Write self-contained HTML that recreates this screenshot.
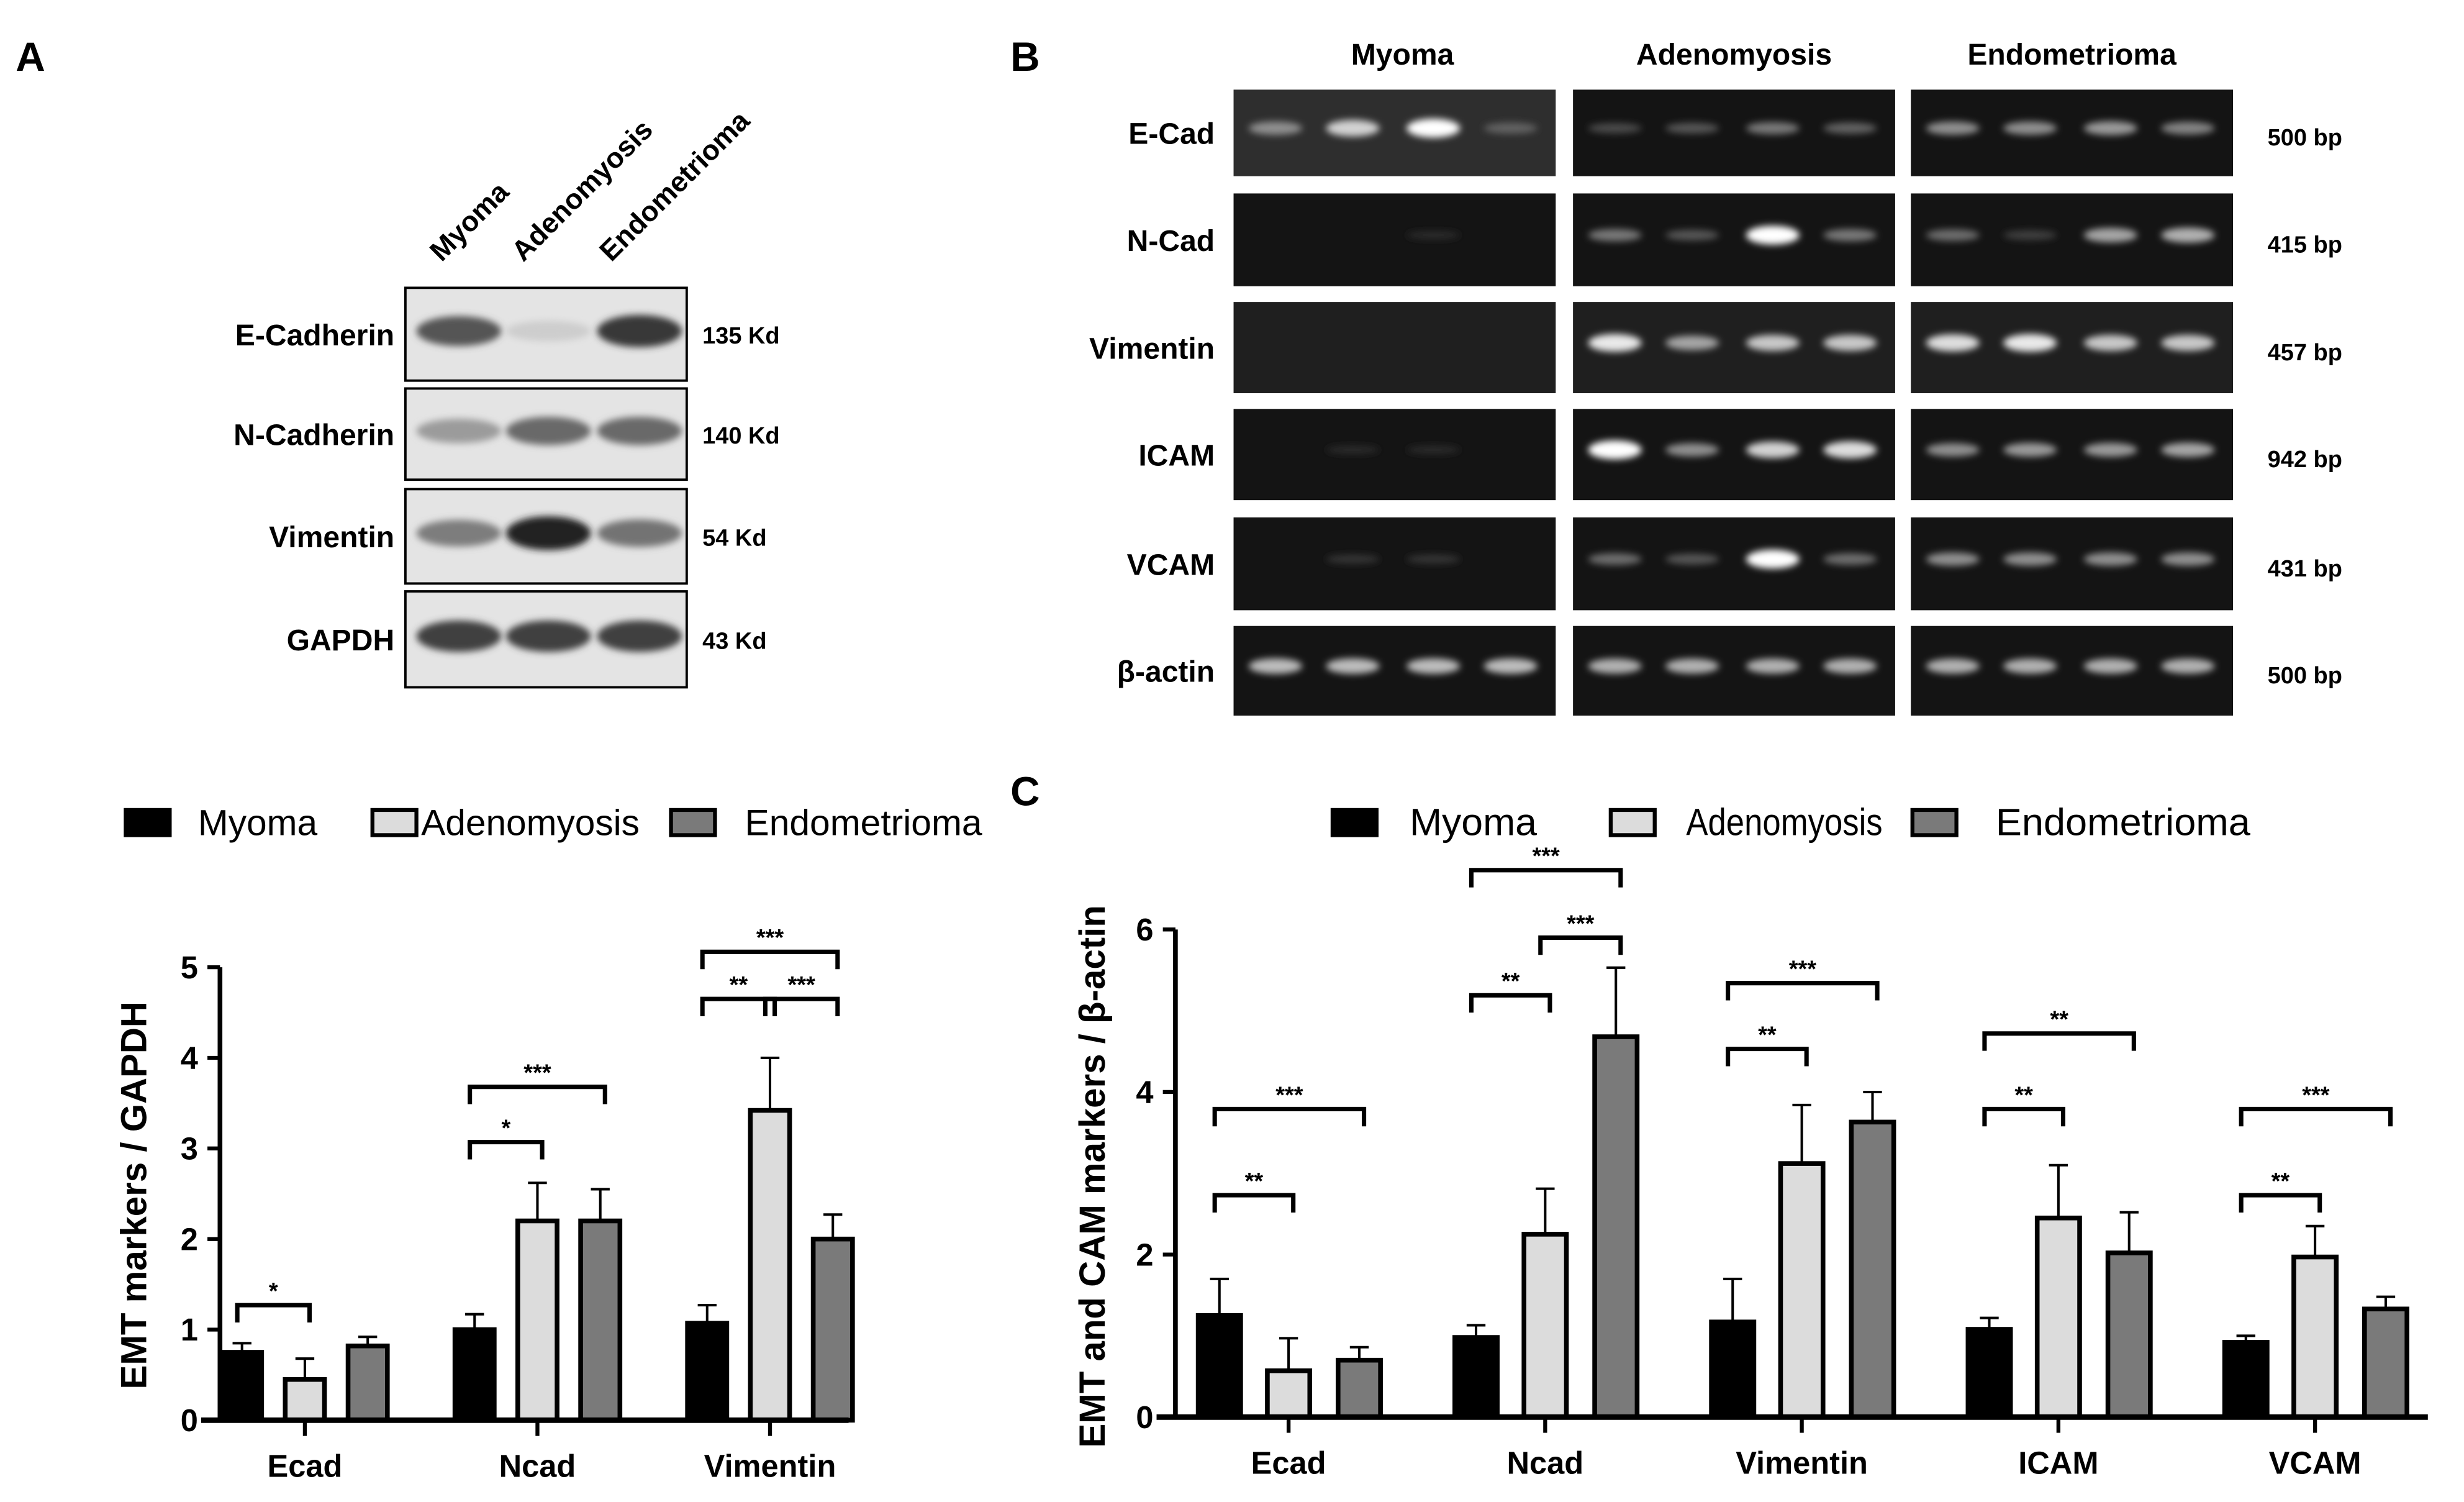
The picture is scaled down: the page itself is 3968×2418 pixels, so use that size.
<!DOCTYPE html>
<html><head><meta charset="utf-8"><style>
html,body{margin:0;padding:0;background:#fff;}
svg{display:block;font-family:"Liberation Sans",sans-serif;}
</style></head><body>
<svg id="fig" width="3968" height="2418" viewBox="0 0 1568 955" preserveAspectRatio="none" xmlns="http://www.w3.org/2000/svg">
<defs>
<filter id="blur" x="-50%" y="-100%" width="200%" height="300%"><feGaussianBlur stdDeviation="2.2"/></filter>
</defs>
<rect width="1568" height="955" fill="#fff"/>
<text x="10" y="45" font-size="26" font-weight="bold">A</text>
<text x="643" y="45" font-size="26" font-weight="bold">B</text>
<text x="643" y="512" font-size="26" font-weight="bold">C</text>
<g id="wb"></g>
<g id="gel"></g>
<g id="chartA"></g>
<g id="chartC"></g>
</svg>
<script>
// ---- Chart A data ----
const catsA = ["Ecad","Ncad","Vimentin"];
const myomaA = [0.75, 1.0, 1.07];
const adenoA = [0.45, 2.2, 3.42];
const endoA = [0.82, 2.2, 2.0];
const myomaErrA = [0.1, 0.17, 0.2];
const adenoErrA = [0.23, 0.42, 0.58];
const endoErrA = [0.1, 0.35, 0.27];
const ticksA = [0,1,2,3,4,5];
const sigGroupA = [0,1,1,2,2,2];
const sigFromA = [0,0,0,0,1,0];
const sigToA = [1,1,2,1,2,2];
const sigLevelA = [1.27,3.07,3.68,4.65,4.65,5.17];
const sigTextA = ["*","*","***","**","***","***"];
// ---- Chart C data ----
const catsC = ["Ecad","Ncad","Vimentin","ICAM","VCAM"];
const myomaC = [1.25, 0.98, 1.17, 1.08, 0.92];
const adenoC = [0.57, 2.25, 3.12, 2.45, 1.97];
const endoC = [0.7, 4.68, 3.63, 2.02, 1.33];
const myomaErrC = [0.45, 0.15, 0.53, 0.14, 0.08];
const adenoErrC = [0.4, 0.56, 0.72, 0.65, 0.38];
const endoErrC = [0.16, 0.85, 0.37, 0.5, 0.15];
const ticksC = [0,2,4,6];
const sigGroupC = [0,0,1,1,1,2,2,3,3,4,4];
const sigFromC = [0,0,0,1,0,0,0,0,0,0,0];
const sigToC = [1,2,1,2,2,1,2,1,2,1,2];
const sigLevelC = [2.73,3.79,5.19,5.9,6.73,4.53,5.34,3.79,4.72,2.73,3.79];
const sigTextC = ["**","***","**","***","***","**","***","**","**","**","***"];
const seriesNames = ["Myoma","Adenomyosis","Endometrioma"];
const fills = ["#000","#dcdcdc","#7a7a7a"];

const NS="http://www.w3.org/2000/svg";
function mk(tag, attrs, parent){const e=document.createElementNS(NS,tag);for(const k in attrs)e.setAttribute(k,attrs[k]);parent.appendChild(e);return e;}

function drawChart(g, cfg){
  const y = v => cfg.y0 - v*cfg.unit;
  const xc = i => cfg.c0 + i*cfg.step;
  const series=[cfg.my,cfg.ad,cfg.en], errs=[cfg.myE,cfg.adE,cfg.enE];
  cfg.cats.forEach((c,i)=>{
    for(let s=0;s<3;s++){
      const v=series[s][i], e=errs[s][i], cx=xc(i)+cfg.offs[s];
      const el=mk('line',{x1:cx,x2:cx,y1:y(v),y2:y(v+e),stroke:'#000','stroke-width':1.6},g);
      
      
      const cap=mk('line',{x1:cx-6,x2:cx+6,y1:y(v+e),y2:y(v+e),stroke:'#000','stroke-width':1.6},g);
      
      
      const r=mk('rect',{x:cx-cfg.bw/2,y:y(v),width:cfg.bw,height:y(0)-y(v),fill:fills[s],stroke:'#000','stroke-width':3},g);
      
      
    }
    const t=mk('line',{x1:xc(i),x2:xc(i),y1:y(0),y2:y(0)+10,stroke:'#000','stroke-width':2.5},g);
    
    
    const lb=mk('text',{x:xc(i),y:y(0)+36,'text-anchor':'middle','font-size':20,'font-weight':'bold'},g);
    lb.textContent=c;
    
    
  });
  const ax=mk('line',{x1:cfg.ax,x2:cfg.ax,y1:y(cfg.ticks[cfg.ticks.length-1]),y2:y(0)+1.5,stroke:'#000','stroke-width':3},g);
  
  
  const xa=mk('line',{x1:cfg.ax-12,x2:cfg.xend,y1:y(0),y2:y(0),stroke:'#000','stroke-width':3.5},g);
  
  
  cfg.ticks.forEach(t=>{
    const tl=mk('line',{x1:cfg.ax-8,x2:cfg.ax,y1:y(t),y2:y(t),stroke:'#000','stroke-width':2.5},g);
    
    
    const tx=mk('text',{x:cfg.ax-14,y:y(t)+7,'text-anchor':'end','font-size':20,'font-weight':'bold'},g);
    tx.textContent=t;
    
    
  });
  cfg.sg.forEach((gi,k)=>{
    const x1=xc(gi)+cfg.offs[cfg.sf[k]]-3, x2=xc(gi)+cfg.offs[cfg.st[k]]+3, yy=y(cfg.sl[k]);
    const p=mk('path',{d:`M${x1} ${yy+11}V${yy}H${x2}V${yy+11}`,fill:'none',stroke:'#000','stroke-width':2.8},g);
    
    
    const s=mk('text',{x:(x1+x2)/2,y:yy-4,'text-anchor':'middle','font-size':15,'font-weight':'bold'},g);
    s.textContent=cfg.stx[k];
    
    
  });
  const yt=mk('text',{x:0,y:0,transform:`translate(${cfg.tx},${cfg.ty}) rotate(-90)`,'text-anchor':'middle','font-size':cfg.tfs,'font-weight':'bold'},g);
  yt.textContent=cfg.title;
  
  
  cfg.leg.forEach((lx,s)=>{
    const r=mk('rect',{x:lx,y:cfg.ly-8,width:28,height:16,fill:fills[s],stroke:'#000','stroke-width':2.5},g);
    
    
    const t=mk('text',{x:cfg.ltx[s],y:cfg.ly+8,'font-size':cfg.lfs,textLength:cfg.lw[s],lengthAdjust:'spacingAndGlyphs'},g);
    t.textContent=seriesNames[s];
    
    
  });
}
drawChart(document.getElementById('chartA'),{cats:catsA,my:myomaA,ad:adenoA,en:endoA,myE:myomaErrA,adE:adenoErrA,enE:endoErrA,
  ticks:ticksA,sg:sigGroupA,sf:sigFromA,st:sigToA,sl:sigLevelA,stx:sigTextA,
  y0:903,unit:57.6,c0:194,step:148,offs:[-40,0,40],bw:25,ax:140,xend:540,
  title:"EMT markers / GAPDH",tx:93,ty:760,tfs:23,leg:[80,237,427],ltx:[126,268,474],lw:[76,139,151],ly:523,lfs:23});
drawChart(document.getElementById('chartC'),{cats:catsC,my:myomaC,ad:adenoC,en:endoC,myE:myomaErrC,adE:adenoErrC,enE:endoErrC,
  ticks:ticksC,sg:sigGroupC,sf:sigFromC,st:sigToC,sl:sigLevelC,stx:sigTextC,
  y0:901,unit:51.67,c0:820,step:163.3,offs:[-44,0,45],bw:27,ax:748,xend:1545,
  title:"EMT and CAM markers / β-actin",tx:703,ty:748,tfs:23,leg:[848,1025,1217],ltx:[897,1073,1270],lw:[81,125,162],ly:523,lfs:24});

// ---- Western blot (panel A top) ----
const wbRows=["E-Cadherin","N-Cadherin","Vimentin","GAPDH"];
const wbKd=["135 Kd","140 Kd","54 Kd","43 Kd"];
const wbBand=[[0.7,0.1,0.85],[0.35,0.6,0.6],[0.5,0.95,0.55],[0.8,0.8,0.8]];
const wb=document.getElementById('wb');
const wbY=[[183,242],[247,305],[311,371],[376,437]];
const laneX=[292,349,407];
wbRows.forEach((r,i)=>{
  const [y1,y2]=wbY[i];
  const b=mk('rect',{x:258,y:y1,width:179,height:y2-y1,fill:'#e4e4e4',stroke:'#000','stroke-width':1.5},wb);
  
  
  laneX.forEach((lx,j)=>{
    const v=wbBand[i][j];const c=Math.round(225-v*200);
    const e=mk('ellipse',{cx:lx,cy:(y1+y2)/2-2,rx:27,ry:6+v*5,fill:`rgb(${c},${c},${c})`,filter:'url(#blur)'},wb);
    
    
  });
  const t=mk('text',{x:251,y:(y1+y2)/2+7,'text-anchor':'end','font-size':19,'font-weight':'bold'},wb);
  t.textContent=r;
  const k=mk('text',{x:447,y:(y1+y2)/2+6,'font-size':15,'font-weight':'bold'},wb);
  k.textContent=wbKd[i];
});
seriesNames.forEach((n,j)=>{
  const t=mk('text',{x:0,y:0,transform:`translate(${[281,333,389][j]},${167}) rotate(-45)`,'font-size':18,'font-weight':'bold'},wb);
  t.textContent=n;
});

// ---- Gel (panel B) ----
const gelRows=["E-Cad","N-Cad","Vimentin","ICAM","VCAM","β-actin"];
const gelBp=["500 bp","415 bp","457 bp","942 bp","431 bp","500 bp"];
const gelBand=[
 [[0.5,0.8,1,0.3],[0.2,0.25,0.4,0.3],[0.5,0.5,0.55,0.45]],
 [[0,0,0.06,0],[0.4,0.25,1,0.4],[0.35,0.15,0.6,0.65]],
 [[0,0,0,0],[0.9,0.6,0.75,0.75],[0.85,0.9,0.75,0.75]],
 [[0,0.05,0.05,0],[1,0.5,0.8,0.85],[0.5,0.55,0.55,0.6]],
 [[0,0.1,0.1,0],[0.35,0.25,1,0.35],[0.5,0.5,0.5,0.5]],
 [[0.7,0.7,0.7,0.7],[0.65,0.65,0.65,0.65],[0.65,0.65,0.65,0.65]]];
const gel=document.getElementById('gel');
const gY=[[57,112],[123,182],[192,250],[260,318],[329,388],[398,455]];
const bX=[785,1001,1216], bW=205;
const bandFrac=[0.13,0.37,0.62,0.86];
gelRows.forEach((r,i)=>{
  const [y1,y2]=gY[i];
  bX.forEach((bx,b)=>{
    const bg=(i===0&&b===0)?'#2e2e2e':(i===2?'#1f1f1f':'#141414');
    const rr=mk('rect',{x:bx,y:y1,width:bW,height:y2-y1,fill:bg},gel);
    
    
    bandFrac.forEach((f,j)=>{
      const v=gelBand[i][b][j]; if(v<=0) return;
      const c=Math.round(30+v*225);
      const e=mk('ellipse',{cx:bx+f*bW,cy:(y1+y2)/2-3,rx:17,ry:2.5+v*3.5,fill:`rgb(${c},${c},${c})`,filter:'url(#blur)'},gel);
      
      
    });
  });
  const t=mk('text',{x:773,y:(y1+y2)/2+7,'text-anchor':'end','font-size':19,'font-weight':'bold'},gel);
  t.textContent=r;
  const k=mk('text',{x:1443,y:(y1+y2)/2+8,'font-size':15,'font-weight':'bold'},gel);
  k.textContent=gelBp[i];
});
seriesNames.forEach((n,b)=>{
  const t=mk('text',{x:bX[b]+bW/2+(b===0?5:0),y:41,'text-anchor':'middle','font-size':19,'font-weight':'bold'},gel);
  t.textContent=n;
});
</script>
</body></html>
